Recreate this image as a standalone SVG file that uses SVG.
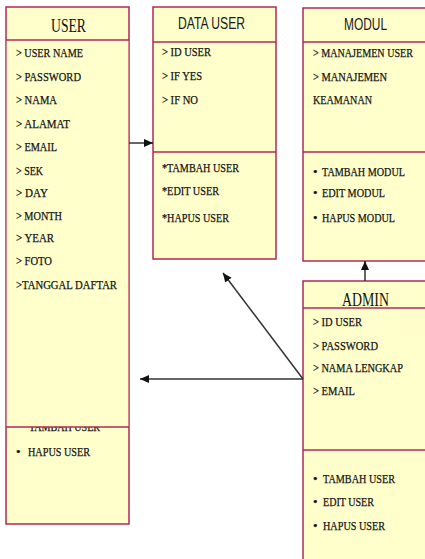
<svg xmlns="http://www.w3.org/2000/svg" width="425" height="559" viewBox="0 0 425 559">
<defs>
<style>
.box{fill:#FFFFCC;stroke:#B3285A;stroke-width:1.5}
.ln{stroke:#B3285A;stroke-width:1.5}
.t{font-family:"Liberation Serif","Times New Roman",serif;font-size:13px;fill:#111;stroke:#111;stroke-width:0.25}
.ts{font-family:"Liberation Sans",Arial,sans-serif;font-size:16px;fill:#1a1a1a}
.tt{font-family:"Liberation Serif","Times New Roman",serif;font-size:18px;fill:#111}
.c{stroke:#333;stroke-width:1.5;fill:none}
</style>
<marker id="ah" markerUnits="userSpaceOnUse" markerWidth="10" markerHeight="10" refX="9" refY="5" orient="auto">
<path d="M0,1 L9,5 L0,9 z" fill="#111"/>
</marker>
</defs>
<g id="user">
<rect class="box" x="6" y="7" width="123" height="517"/>
<text class="t" x="29" y="431" textLength="71" lengthAdjust="spacingAndGlyphs">TAMBAH USER</text>
<rect x="6.75" y="40" width="121.5" height="387" fill="#FFFFCC"/>
<line class="ln" x1="6" y1="40" x2="129" y2="40"/>
<line class="ln" x1="6" y1="427" x2="129" y2="427"/>
<text class="tt" x="51" y="32" textLength="35" lengthAdjust="spacingAndGlyphs">USER</text>
<text class="t" x="16" y="57" textLength="67" lengthAdjust="spacingAndGlyphs">&gt; USER NAME</text>
<text class="t" x="16" y="81" textLength="65" lengthAdjust="spacingAndGlyphs">&gt; PASSWORD</text>
<text class="t" x="16" y="104" textLength="41" lengthAdjust="spacingAndGlyphs">&gt; NAMA</text>
<text class="t" x="16" y="128" textLength="54" lengthAdjust="spacingAndGlyphs">&gt; ALAMAT</text>
<text class="t" x="16" y="151" textLength="41" lengthAdjust="spacingAndGlyphs">&gt; EMAIL</text>
<text class="t" x="16" y="175" textLength="27" lengthAdjust="spacingAndGlyphs">&gt; SEK</text>
<text class="t" x="16" y="197" textLength="32" lengthAdjust="spacingAndGlyphs">&gt; DAY</text>
<text class="t" x="16" y="220" textLength="46" lengthAdjust="spacingAndGlyphs">&gt; MONTH</text>
<text class="t" x="16" y="242" textLength="38" lengthAdjust="spacingAndGlyphs">&gt; YEAR</text>
<text class="t" x="16" y="265" textLength="36" lengthAdjust="spacingAndGlyphs">&gt; FOTO</text>
<text class="t" x="16" y="289" textLength="101" lengthAdjust="spacingAndGlyphs">&gt;TANGGAL  DAFTAR</text>
<text class="t" x="16" y="456">•</text>
<text class="t" x="28" y="456" textLength="62" lengthAdjust="spacingAndGlyphs">HAPUS USER</text>
</g>
<g id="data-user">
<rect class="box" x="153" y="7" width="123" height="252"/>
<line class="ln" x1="153" y1="42" x2="276" y2="42"/>
<line class="ln" x1="153" y1="152" x2="276" y2="152"/>
<text class="ts" x="178" y="29" textLength="67" lengthAdjust="spacingAndGlyphs">DATA USER</text>
<text class="t" x="162" y="56" textLength="49" lengthAdjust="spacingAndGlyphs">&gt; ID USER</text>
<text class="t" x="162" y="80" textLength="40" lengthAdjust="spacingAndGlyphs">&gt; IF YES</text>
<text class="t" x="162" y="104" textLength="36" lengthAdjust="spacingAndGlyphs">&gt; IF NO</text>
<text class="t" x="162" y="172" textLength="77" lengthAdjust="spacingAndGlyphs">*TAMBAH USER</text>
<text class="t" x="162" y="195" textLength="57" lengthAdjust="spacingAndGlyphs">*EDIT USER</text>
<text class="t" x="162" y="222" textLength="67" lengthAdjust="spacingAndGlyphs">*HAPUS USER</text>
</g>
<g id="modul">
<rect class="box" x="303" y="8" width="130" height="253"/>
<line class="ln" x1="303" y1="42" x2="433" y2="42"/>
<line class="ln" x1="303" y1="152" x2="433" y2="152"/>
<text class="ts" x="344" y="30" textLength="43" lengthAdjust="spacingAndGlyphs">MODUL</text>
<text class="t" x="313" y="57" textLength="100" lengthAdjust="spacingAndGlyphs">&gt; MANAJEMEN USER</text>
<text class="t" x="313" y="81" textLength="74" lengthAdjust="spacingAndGlyphs">&gt; MANAJEMEN</text>
<text class="t" x="313" y="104" textLength="59" lengthAdjust="spacingAndGlyphs">KEAMANAN</text>
<text class="t" x="313" y="176">•</text>
<text class="t" x="322" y="176" textLength="83" lengthAdjust="spacingAndGlyphs">TAMBAH MODUL</text>
<text class="t" x="313" y="197">•</text>
<text class="t" x="322" y="197" textLength="63" lengthAdjust="spacingAndGlyphs">EDIT MODUL</text>
<text class="t" x="313" y="222">•</text>
<text class="t" x="322" y="222" textLength="73" lengthAdjust="spacingAndGlyphs">HAPUS MODUL</text>
</g>
<g id="admin">
<rect class="box" x="303" y="281" width="130" height="290"/>
<line class="ln" x1="303" y1="308" x2="433" y2="308"/>
<line class="ln" x1="303" y1="450" x2="433" y2="450"/>
<text class="tt" x="342" y="306" textLength="47" lengthAdjust="spacingAndGlyphs">ADMIN</text>
<text class="t" x="313" y="326" textLength="49" lengthAdjust="spacingAndGlyphs">&gt; ID USER</text>
<text class="t" x="313" y="350" textLength="65" lengthAdjust="spacingAndGlyphs">&gt; PASSWORD</text>
<text class="t" x="313" y="372" textLength="90" lengthAdjust="spacingAndGlyphs">&gt; NAMA LENGKAP</text>
<text class="t" x="313" y="395" textLength="42" lengthAdjust="spacingAndGlyphs">&gt; EMAIL</text>
<text class="t" x="313" y="483">•</text>
<text class="t" x="323" y="483" textLength="72" lengthAdjust="spacingAndGlyphs">TAMBAH USER</text>
<text class="t" x="313" y="506">•</text>
<text class="t" x="323" y="506" textLength="51" lengthAdjust="spacingAndGlyphs">EDIT USER</text>
<text class="t" x="313" y="530">•</text>
<text class="t" x="323" y="530" textLength="62" lengthAdjust="spacingAndGlyphs">HAPUS USER</text>
</g>
<g id="connectors">
<line class="c" x1="129" y1="143" x2="153" y2="143" marker-end="url(#ah)"/>
<line class="c" x1="303" y1="379" x2="140" y2="379" marker-end="url(#ah)"/>
<line class="c" x1="303" y1="379" x2="223" y2="273" marker-end="url(#ah)"/>
<line class="c" x1="365" y1="281" x2="365" y2="261" marker-end="url(#ah)"/>
</g>
</svg>
